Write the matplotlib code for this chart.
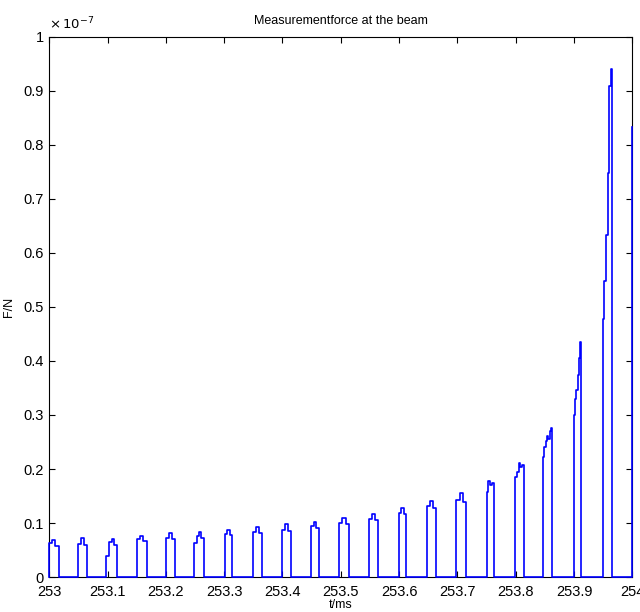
import matplotlib.pyplot as plt
import numpy as np

plt.rcParams['font.family'] = ['Liberation Sans', 'DejaVu Sans']

# force pulses, F in units of 1e-7 N, t in ms
pulse_on = [253.000, 253.049, 253.098, 253.150, 253.200, 253.249, 253.301,
            253.349, 253.399, 253.449, 253.497, 253.548, 253.599, 253.648,
            253.698, 253.750, 253.798, 253.847, 253.900, 253.949, 254.000]
pulse_off = [253.016, 253.065, 253.116, 253.167, 253.216, 253.265, 253.314,
             253.365, 253.415, 253.462, 253.514, 253.563, 253.612, 253.664,
             253.715, 253.763, 253.815, 253.863, 253.912, 253.966, 254.000]
# step levels inside each pulse (rise, ..., tail)
pulse_levels = [
    [0.063, 0.069, 0.058],
    [0.062, 0.072, 0.059],
    [0.040, 0.065, 0.071, 0.060],
    [0.070, 0.076, 0.067],
    [0.073, 0.081, 0.070],
    [0.063, 0.077, 0.083, 0.072],
    [0.080, 0.087, 0.078],
    [0.084, 0.092, 0.081],
    [0.088, 0.098, 0.085],
    [0.094, 0.102, 0.091],
    [0.101, 0.109, 0.098],
    [0.108, 0.117, 0.106],
    [0.118, 0.128, 0.117],
    [0.131, 0.141, 0.128],
    [0.143, 0.156, 0.139],
    [0.157, 0.178, 0.170, 0.174],
    [0.185, 0.195, 0.211, 0.203, 0.207],
    [0.222, 0.240, 0.252, 0.262, 0.255, 0.270, 0.276],
    [0.300, 0.330, 0.346, 0.374, 0.405, 0.435],
    [0.478, 0.548, 0.633, 0.748, 0.909, 0.940],
    [0.833],
]

t = [253.0]
F = [0.0]
for on, off, levels in zip(pulse_on, pulse_off, pulse_levels):
    edges = np.linspace(on, off, len(levels) + 1)
    t.append(on)
    F.append(0.0)
    for i, lv in enumerate(levels):
        t += [edges[i], edges[i + 1]]
        F += [lv, lv]
    if off < 254.0:
        t.append(off)
        F.append(0.0)

fig = plt.figure(figsize=(6.4, 6.12), dpi=100)
ax = fig.add_axes([0.077, 0.057, 0.911, 0.883])
ax.plot(t, F, color='#0000ff', lw=1.2, clip_on=False, zorder=5)

ax.set_xlim(253, 254)
ax.set_ylim(0, 1)
ax.set_xticks(np.arange(253, 254.01, 0.1))
ax.set_xticklabels(['253', '253.1', '253.2', '253.3', '253.4', '253.5',
                    '253.6', '253.7', '253.8', '253.9', '254'])
ax.set_yticks(np.arange(0, 1.01, 0.1))
ax.set_yticklabels(['0', '0.1', '0.2', '0.3', '0.4', '0.5', '0.6',
                    '0.7', '0.8', '0.9', '1'])
ax.tick_params(direction='in', length=4, width=0.8, top=True, right=True,
               labelsize=10.5, pad=4)
ax.tick_params(axis='x', pad=6)
for s in ax.spines.values():
    s.set_linewidth(0.8)

ax.text(0.0, 1.008, r'$\times\,10^{-7}$', transform=ax.transAxes,
        fontsize=9.5, ha='left', va='bottom')
ax.set_title('Measurementforce at the beam', fontsize=9, pad=9)
ax.set_xlabel('t/ms', fontsize=9, labelpad=0)
ax.set_ylabel('F/N', fontsize=9, labelpad=6)

plt.savefig('out.png', dpi=100)
